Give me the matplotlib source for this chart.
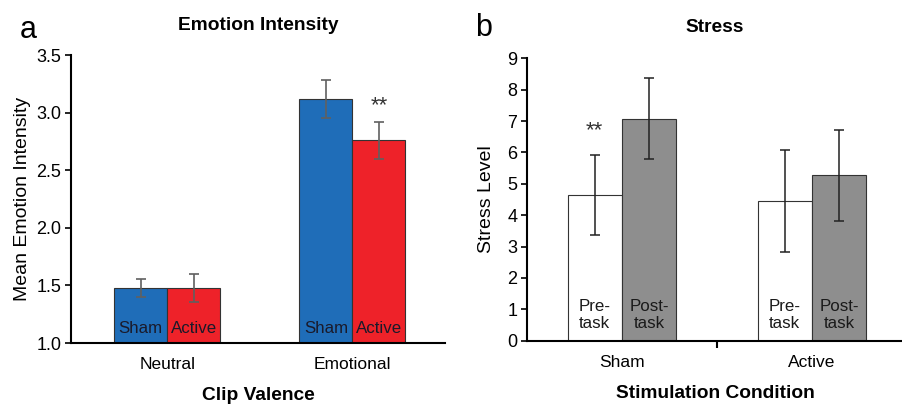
import matplotlib
matplotlib.use("Agg")
import matplotlib.pyplot as plt
import numpy as np

plt.rcParams['font.family'] = ['Liberation Sans', 'DejaVu Sans']

# Panel a data
valence = ["Neutral", "Emotional"]
emo_sham = [1.48, 3.12]
emo_sham_err = [0.08, 0.165]
emo_active = [1.48, 2.76]
emo_active_err = [0.12, 0.16]

# Panel b data
conditions = ["Sham", "Active"]
stress_pre = [4.64, 4.45]
stress_pre_err = [1.27, 1.62]
stress_post = [7.07, 5.27]
stress_post_err = [1.29, 1.45]

fig = plt.figure(figsize=(9.03, 4.05), dpi=100)

W = 0.286
TICK_FS = 13
INNER_FS = 12.2
# ---------- Panel a ----------
axa = fig.add_axes([0.0786, 0.153, 0.4142, 0.711])
x = np.arange(len(valence))
axa.bar(x - W/2, emo_sham, W, bottom=0, color="#1f6db8", edgecolor="#333333", linewidth=0.8,
        yerr=emo_sham_err, error_kw=dict(ecolor="#606060", elinewidth=1.2, capsize=3.5, capthick=1.2))
axa.bar(x + W/2, emo_active, W, color="#ee2229", edgecolor="#333333", linewidth=0.8,
        yerr=emo_active_err, error_kw=dict(ecolor="#606060", elinewidth=1.2, capsize=3.5, capthick=1.2))
axa.set_ylim(1.0, 3.5)
axa.set_xlim(-0.52, 1.5)
axa.set_yticks([1.0, 1.5, 2.0, 2.5, 3.0, 3.5])
axa.set_yticklabels(["1.0", "1.5", "2.0", "2.5", "3.0", "3.5"], fontsize=TICK_FS)
axa.set_xticks(x)
axa.set_xticklabels(valence, fontsize=12.5)
axa.tick_params(axis='x', length=0, pad=10)
axa.tick_params(axis='y', length=4, width=1.2, direction='out', pad=3)
for s in ["top", "right"]:
    axa.spines[s].set_visible(False)
for s in ["left", "bottom"]:
    axa.spines[s].set_linewidth(1.5)
for xi in x:
    axa.text(xi - W/2, 1.13, "Sham", ha="center", va="center", fontsize=INNER_FS, color="#1a1a2a")
    axa.text(xi + W/2, 1.13, "Active", ha="center", va="center", fontsize=INNER_FS, color="#1a1a2a")
axa.text(1 + W/2, emo_active[1] + emo_active_err[1] + 0.05, "**", ha="center", va="bottom",
         fontsize=16, color="#333333")
axa.set_ylabel("Mean Emotion Intensity", fontsize=14, labelpad=4)
axa.set_xlabel("Clip Valence", fontsize=13.8, fontweight="bold", labelpad=11)
axa.set_title("Emotion Intensity", fontsize=13.8, fontweight="bold", pad=18)
fig.text(0.022, 0.925, "a", fontsize=22, ha="left", va="center")

# ---------- Panel b ----------
axb = fig.add_axes([0.5836, 0.1588, 0.4164, 0.6972])
xb = np.arange(len(conditions))
axb.bar(xb - W/2, stress_pre, W, color="white", edgecolor="#333333", linewidth=0.8,
        yerr=stress_pre_err, error_kw=dict(ecolor="#222222", elinewidth=1.1, capsize=3.5, capthick=1.1))
axb.bar(xb + W/2, stress_post, W, color="#8e8e8e", edgecolor="#333333", linewidth=0.8,
        yerr=stress_post_err, error_kw=dict(ecolor="#222222", elinewidth=1.1, capsize=3.5, capthick=1.1))
axb.set_ylim(0, 9)
axb.set_xlim(-0.5, 1.48)
axb.set_yticks(range(0, 10))
axb.set_yticklabels([str(i) for i in range(0, 10)], fontsize=TICK_FS)
axb.set_xticks([0.5], minor=True)
axb.set_xticks(xb)
axb.set_xticklabels(conditions, fontsize=12.5)
axb.tick_params(axis='x', which='major', length=0, pad=10)
axb.tick_params(axis='x', which='minor', length=5, width=1.5, direction='out')
axb.tick_params(axis='y', length=4, width=1.2, direction='out', pad=3)
for s in ["top", "right"]:
    axb.spines[s].set_visible(False)
for s in ["left", "bottom"]:
    axb.spines[s].set_linewidth(1.5)
for xi in xb:
    axb.text(xi - W/2, 0.82, "Pre-\ntask", ha="center", va="center", fontsize=INNER_FS,
             color="#1a1a1a", linespacing=1.1)
    axb.text(xi + W/2, 0.82, "Post-\ntask", ha="center", va="center", fontsize=INNER_FS,
             color="#1a1a1a", linespacing=1.1)
axb.text(0 - W/2, stress_pre[0] + stress_pre_err[0] + 0.45, "**", ha="center", va="bottom",
         fontsize=16, color="#333333")
axb.set_ylabel("Stress Level", fontsize=14, labelpad=9)
axb.set_xlabel("Stimulation Condition", fontsize=13.8, fontweight="bold", labelpad=11)
axb.set_title("Stress", fontsize=13.8, fontweight="bold", pad=19)
fig.text(0.526, 0.93, "b", fontsize=22, ha="left", va="center")

fig.savefig("out.png", dpi=100)
